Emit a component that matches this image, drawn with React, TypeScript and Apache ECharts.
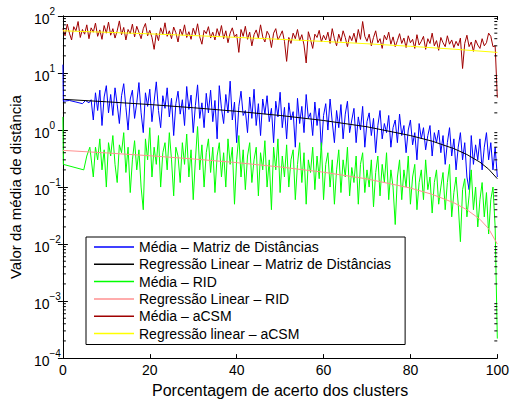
import React, { useEffect, useRef } from "react";
import * as echarts from "echarts";

const FONT = "'Liberation Sans', Arial, Helvetica, sans-serif";

// x ticks
const xTicks = [0, 20, 40, 60, 80, 100];

// early (sparse) points
const blueEarlyX = [0, 0.1, 1.5, 3, 4.5, 5.2, 6, 6.5];
const blueEarlyY = [14, 3.2, 3.3, 3.1, 2.9, 3.3, 3.0, 3.4];
const greenEarlyX = [0, 0.1, 4.8, 5.5, 6.2];
const greenEarlyY = [1.7, 0.25, 0.2, 0.35, 0.5];

// dense part: x = 7.0 .. 100 step 0.5 (187 points)
const blueDense = [
  1.5, 4.5, 2.2, 5.0, 1.2, 3.8, 6.0, 2.0, 4.2, 1.8, 5.5, 2.8, 1.3, 4.0, 6.5, 2.5, 1.0, 3.5, 5.0, 1.6,
  3.0, 6.8, 2.0, 0.9, 4.5, 2.6, 5.2, 1.4, 3.2, 7.0, 2.2, 1.1, 4.0, 2.4, 5.5, 1.7, 3.6, 0.8, 2.9, 4.8,
  1.9, 3.4, 1.2, 5.8, 2.3, 4.1, 0.9, 2.7, 6.2, 1.6, 3.0, 1.1, 4.4, 2.0, 5.0, 1.4, 3.3, 0.7, 6.0, 2.4,
  1.3, 4.2, 2.0, 7.2, 1.5, 3.1, 0.6, 2.6, 4.8, 1.8, 2.2, 0.9, 3.8, 1.6, 5.2, 1.2, 2.9, 0.8, 3.5, 1.9,
  4.0, 1.4, 2.4, 0.6, 3.2, 1.7, 4.6, 1.1, 2.5, 0.7, 3.0, 1.5, 2.1, 0.5, 3.6, 1.3, 2.6, 0.9, 4.2, 1.6,
  2.0, 0.8, 3.1, 1.2, 2.4, 0.45, 1.8, 2.9, 1.0, 3.5, 1.4, 0.6, 2.2, 1.1, 2.8, 0.7, 1.9, 3.2, 0.9, 1.5,
  2.4, 0.6, 1.7, 1.0, 2.6, 0.5, 1.4, 2.0, 0.8, 1.6, 0.4, 1.2, 2.2, 0.7, 1.3, 0.9, 1.8, 0.5, 1.1, 1.5,
  0.6, 1.9, 0.8, 1.2, 0.4, 1.0, 1.5, 0.55, 0.9, 0.3, 1.3, 0.7, 1.1, 0.45, 0.8, 1.2, 0.35, 0.9, 0.6, 1.0,
  0.4, 0.8, 0.25, 0.6, 1.1, 0.35, 0.7, 0.2, 0.5, 0.9, 0.3, 0.6, 0.15, 0.09, 0.8, 0.25, 0.55, 0.3, 0.7, 0.2,
  0.5, 0.9, 0.3, 0.6, 0.2, 0.5, 0.15,
];

const greenDense = [
  0.15, 0.5, 0.3, 0.7, 0.2, 0.45, 0.1, 0.6, 0.35, 0.8, 0.25, 0.12, 0.55, 0.4, 0.9, 0.18, 0.5, 0.08, 0.3, 0.65,
  0.2, 0.45, 0.1, 0.04, 0.7, 0.3, 1.1, 0.15, 0.5, 0.25, 0.8, 0.1, 0.4, 0.6, 0.2, 0.9, 0.3, 0.07, 0.5, 0.35,
  0.12, 0.6, 0.25, 0.85, 0.15, 0.45, 0.06, 0.3, 1.15, 0.2, 0.55, 0.1, 0.4, 0.7, 0.18, 0.5, 0.08, 0.35, 0.6, 0.15,
  0.4, 0.1, 0.7, 0.25, 0.5, 0.05, 0.3, 0.8, 0.15, 0.45, 0.09, 0.35, 0.6, 0.12, 0.3, 0.5, 0.07, 0.4, 0.2, 0.65,
  0.1, 0.3, 0.04, 0.5, 0.2, 0.7, 0.08, 0.35, 0.15, 0.55, 0.1, 0.3, 0.45, 0.06, 0.25, 0.6, 0.12, 0.4, 0.05, 0.3,
  0.18, 0.5, 0.09, 0.35, 0.14, 0.6, 0.06, 0.25, 0.4, 0.1, 0.3, 0.05, 0.2, 0.45, 0.08, 0.3, 0.15, 0.5, 0.07, 0.22,
  0.12, 0.35, 0.05, 0.25, 0.4, 0.08, 0.2, 0.1, 0.3, 0.045, 0.18, 0.35, 0.07, 0.25, 0.12, 0.4, 0.06, 0.2, 0.1, 0.022,
  0.15, 0.3, 0.06, 0.2, 0.1, 0.35, 0.05, 0.15, 0.25, 0.04, 0.12, 0.2, 0.06, 0.3, 0.09, 0.15, 0.035, 0.12, 0.2, 0.05,
  0.1, 0.18, 0.04, 0.12, 0.25, 0.03, 0.08, 0.15, 0.05, 0.011, 0.09, 0.14, 0.03, 0.07, 0.2, 0.04, 0.1, 0.02, 0.06, 0.12,
  0.03, 0.08, 0.015, 0.06, 0.1, 0.02, 0.00022,
];

// aCSM: x = 0 .. 100 step 0.5 (201 points)
const brownValues = [
  60, 45, 72, 50, 38, 65, 55, 80, 42, 58, 48, 70, 40, 62, 52, 75, 44, 57, 39, 68,
  50, 78, 46, 60, 41, 55, 82, 47, 63, 38, 58, 49, 72, 43, 66, 52, 40, 60, 74, 45,
  56, 42, 26, 50, 37, 62, 48, 76, 44, 55, 40, 64, 51, 35, 59, 46, 70, 42, 53, 39,
  61, 47, 73, 43, 32, 56, 49, 65, 41, 52, 38, 60, 45, 68, 40, 55, 34, 50, 62, 43,
  48, 23, 58, 44, 66, 39, 52, 30, 47, 57, 41, 70, 43, 35, 54, 46, 28, 50, 60, 38,
  45, 55, 36, 16, 42, 33, 50, 40, 58, 37, 47, 31, 15, 53, 39, 27, 48, 42, 56, 35,
  46, 38, 52, 33, 60, 40, 30, 48, 36, 55, 42, 29, 45, 37, 50, 34, 58, 39, 80, 44,
  36, 48, 30, 42, 55, 34, 40, 27, 46, 38, 52, 32, 43, 29, 37, 49, 33, 41, 28, 45,
  34, 39, 27, 47, 31, 36, 44, 26, 40, 33, 50, 30, 37, 25, 42, 34, 29, 45, 32, 38,
  28, 36, 30, 41, 12, 33, 46, 29, 35, 24, 38, 31, 27, 40, 30, 34, 50, 44, 29, 30,
  3.7,
];

// regression lines, read at these x positions
const regX = [0, 10, 20, 30, 40, 50, 60, 70, 80, 85, 90, 93, 96, 98, 100];
const blackReg = [3.46, 3.13, 2.8, 2.46, 2.13, 1.8, 1.47, 1.14, 0.8, 0.638, 0.472, 0.372, 0.273, 0.206, 0.14];
const pinkReg = [0.44, 0.397, 0.354, 0.311, 0.268, 0.225, 0.182, 0.139, 0.096, 0.0745, 0.053, 0.04, 0.0272, 0.0186, 0.01];
const yellowX = [0, 10, 20, 30, 40, 50, 60, 70, 80, 90, 100];
const yellowReg = [55, 51.8, 48.6, 45.4, 42.2, 39, 35.8, 32.6, 29.4, 26.2, 23];

const seriesNames = [
  "Média – Matriz de Distâncias",
  "Regressão Linear – Matriz de Distâncias",
  "Média – RID",
  "Regressão Linear – RID",
  "Média – aCSM",
  "Regressão linear – aCSM",
];
const seriesColors = ["#0000ff", "#000000", "#00ff00", "#ff9090", "#a00000", "#ffff00"];

export default function App() {
  const ref = useRef<HTMLDivElement>(null);
  useEffect(() => {
    if (!ref.current) return;
    const chart = echarts.init(ref.current, undefined, { renderer: "svg" });

    const xDense: number[] = [];
    for (let i = 0; i < blueDense.length; i++) xDense.push(7 + i * 0.5);
    const blueData = [
      ...blueEarlyX.map((x, i) => [x, blueEarlyY[i]]),
      ...xDense.map((x, i) => [x, blueDense[i]]),
    ];
    const greenData = [
      ...greenEarlyX.map((x, i) => [x, greenEarlyY[i]]),
      ...xDense.map((x, i) => [x, greenDense[i]]),
    ];
    const brownData = brownValues.map((v, i) => [i * 0.5, v]);
    const blackData = regX.map((x, i) => [x, blackReg[i]]);
    const pinkData = regX.map((x, i) => [x, pinkReg[i]]);
    const yellowData = yellowX.map((x, i) => [x, yellowReg[i]]);
    const datas = [blueData, blackData, greenData, pinkData, brownData, yellowData];

    const minorTicks: number[][] = [];
    for (let e = -4; e < 2; e++) {
      for (let k = 2; k <= 9; k++) minorTicks.push([0, k * Math.pow(10, e)]);
    }

    const supFmt = (v: number) => {
      const e = Math.round(Math.log10(v));
      const s = e < 0 ? "\u2212" + Math.abs(e) : String(e);
      return `{b|10}{e|${s}}`;
    };

    const lineSeries = seriesNames.map((name, i) => ({
      name,
      type: "line",
      data: datas[i],
      showSymbol: false,
      symbol: "none",
      color: seriesColors[i],
      lineStyle: { color: seriesColors[i], width: 1 },
      itemStyle: { color: seriesColors[i] },
      silent: true,
      z: 2 + i,
    }));

    chart.setOption({
      animation: false,
      backgroundColor: "#fff",
      textStyle: { fontFamily: FONT },
      grid: { left: 62, right: 10, top: 16, bottom: 40, containLabel: false },
      legend: {
        data: seriesNames,
        orient: "vertical",
        left: 86,
        top: 237,
        icon: "rect",
        itemWidth: 40,
        itemHeight: 1.5,
        itemGap: 1.3,
        padding: [2, 14, 3, 8],
        borderColor: "#000",
        borderWidth: 1,
        backgroundColor: "#fff",
        selectedMode: false,
        textStyle: { fontSize: 14, color: "#000", fontFamily: FONT, lineHeight: 16 },
      },
      xAxis: [
        {
          type: "value",
          min: xTicks[0],
          max: xTicks[xTicks.length - 1],
          interval: 20,
          name: "Porcentagem de acerto dos clusters",
          nameLocation: "middle",
          nameGap: 22,
          nameTextStyle: { fontSize: 16, color: "#000", fontFamily: FONT },
          axisLine: { show: true, lineStyle: { color: "#000", width: 1 } },
          axisTick: { show: true, inside: true, length: 4, lineStyle: { color: "#000" } },
          axisLabel: { fontSize: 14, color: "#000", margin: 5, fontFamily: FONT },
          splitLine: { show: false },
        },
        {
          type: "value",
          position: "top",
          min: 0,
          max: 100,
          interval: 20,
          axisLine: { show: true, lineStyle: { color: "#000", width: 1 } },
          axisTick: { show: true, inside: true, length: 4, lineStyle: { color: "#000" } },
          axisLabel: { show: false },
          splitLine: { show: false },
        },
      ],
      yAxis: [
        {
          type: "log",
          logBase: 10,
          min: 1e-4,
          max: 100,
          interval: 1,
          name: "Valor da média de distância",
          nameLocation: "middle",
          nameGap: 37,
          nameTextStyle: { fontSize: 15, color: "#000", fontFamily: FONT },
          axisLine: { show: true, lineStyle: { color: "#000", width: 1 } },
          axisTick: { show: true, inside: true, length: 5, lineStyle: { color: "#000" } },
          axisLabel: {
            formatter: supFmt,
            align: "left",
            margin: 29,
            rich: {
              b: { fontSize: 14, color: "#000", fontFamily: FONT, lineHeight: 20, verticalAlign: "bottom" },
              e: { fontSize: 10, color: "#000", fontFamily: FONT, verticalAlign: "top", lineHeight: 11 },
            },
          },
          splitLine: { show: false },
        },
        {
          type: "log",
          logBase: 10,
          min: 1e-4,
          max: 100,
          interval: 1,
          position: "right",
          axisLine: { show: true, lineStyle: { color: "#000", width: 1 } },
          axisTick: { show: true, inside: true, length: 5, lineStyle: { color: "#000" } },
          axisLabel: { show: false },
          splitLine: { show: false },
        },
      ],
      series: [
        ...lineSeries,
        {
          type: "custom",
          silent: true,
          z: 20,
          data: minorTicks,
          encode: { x: 0, y: 1 },
          renderItem: (params: any, api: any) => {
            const v = api.value(1);
            const p0 = api.coord([0, v]);
            const p1 = api.coord([100, v]);
            return {
              type: "group",
              children: [
                { type: "line", shape: { x1: p0[0], y1: p0[1], x2: p0[0] + 3, y2: p0[1] }, style: { stroke: "#000", lineWidth: 1 } },
                { type: "line", shape: { x1: p1[0] - 3, y1: p1[1], x2: p1[0], y2: p1[1] }, style: { stroke: "#000", lineWidth: 1 } },
              ],
            };
          },
        },
      ],
    });
    return () => chart.dispose();
  }, []);
  return (
    <div
      ref={ref}
      style={{ position: "absolute", left: 0, top: 0, width: 512, height: 403, background: "#fff" }}
    />
  );
}
